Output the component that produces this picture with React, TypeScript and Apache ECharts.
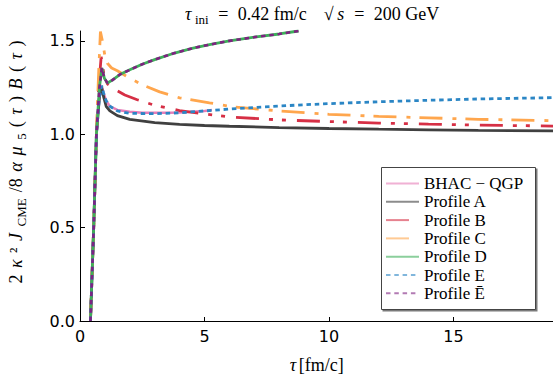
import React, { useEffect, useRef } from "react";
import * as echarts from "echarts";

// ---- data ----
const tauBHAC = [0.42, 0.55, 0.66, 0.78, 0.87, 0.95, 1.05, 1.2, 1.5, 2.0, 2.5, 3.0, 3.5, 4.0, 4.5, 5.0, 5.3];
const valBHAC = [0, 0.5, 1.0, 1.2, 1.26, 1.22, 1.18, 1.15, 1.13, 1.12, 1.115, 1.115, 1.115, 1.117, 1.12, 1.125, 1.13];

const tauA = [0.42, 0.55, 0.66, 0.78, 0.87, 0.95, 1.05, 1.2, 1.5, 2, 3, 4, 5, 6, 8, 10, 12, 14, 16, 19];
const valA = [0, 0.5, 1.0, 1.2, 1.25, 1.2, 1.15, 1.125, 1.1, 1.08, 1.062, 1.053, 1.047, 1.043, 1.036, 1.031, 1.027, 1.024, 1.021, 1.018];

const tauB = [0.42, 0.55, 0.66, 0.75, 0.85, 0.95, 1.1, 1.4, 1.8, 2.3, 3, 4, 5, 6, 8, 10, 12, 14, 16, 19];
const valB = [0, 0.5, 1.0, 1.25, 1.415, 1.33, 1.27, 1.24, 1.21, 1.185, 1.155, 1.127, 1.109, 1.093, 1.077, 1.068, 1.06, 1.054, 1.049, 1.044];

const tauC = [0.42, 0.55, 0.66, 0.74, 0.82, 0.9, 1.0, 1.1, 1.27, 1.5, 2, 2.5, 3.2, 4, 5.2, 6.2, 8, 10, 12, 14, 16, 19];
const valC = [0, 0.5, 1.0, 1.3, 1.55, 1.5, 1.42, 1.38, 1.355, 1.34, 1.3, 1.265, 1.227, 1.195, 1.168, 1.146, 1.125, 1.107, 1.096, 1.088, 1.08, 1.073];

const tauD = [0.42, 0.55, 0.66, 0.78, 0.88, 0.98, 1.1, 1.3, 1.6, 2, 2.5, 3, 3.8, 4.5, 5.2, 6, 7, 8, 8.78];
const valD = [0, 0.5, 1.0, 1.25, 1.355, 1.3, 1.275, 1.29, 1.32, 1.345, 1.375, 1.4, 1.435, 1.46, 1.48, 1.5, 1.52, 1.537, 1.553];

const tauE = [0.42, 0.55, 0.66, 0.78, 0.87, 0.95, 1.05, 1.2, 1.5, 2, 3, 4, 5, 6, 7, 8, 9, 10, 12, 14, 16, 19];
const valE = [0, 0.5, 1.0, 1.2, 1.26, 1.22, 1.18, 1.15, 1.125, 1.112, 1.11, 1.115, 1.125, 1.135, 1.143, 1.151, 1.158, 1.164, 1.174, 1.182, 1.189, 1.196];

const tauEbar = [0.42, 0.55, 0.66, 0.78, 0.88, 0.98, 1.1, 1.3, 1.6, 2, 2.5, 3, 3.8, 4.5, 5.2, 6, 7, 8, 8.78];
const valEbar = [0, 0.5, 1.0, 1.25, 1.355, 1.3, 1.275, 1.29, 1.32, 1.345, 1.375, 1.4, 1.435, 1.46, 1.48, 1.5, 1.52, 1.537, 1.553];

const seriesNames = ["BHAC − QGP", "Profile A", "Profile B", "Profile C", "Profile D", "Profile E", "Profile Ē"];
const xTicks = [0, 5, 10, 15];
const yTicks = [0, 0.5, 1.0, 1.5];

const serif = "'Liberation Serif', serif";
const sans = "'DejaVu Sans', sans-serif";

function pairs(t: number[], v: number[]) {
  return t.map((x, i) => [x, v[i]]);
}

function tok(size: number, italic: boolean, extra: any = {}) {
  return {
    fontFamily: serif,
    fontSize: size,
    fontStyle: italic ? "italic" : "normal",
    color: "#000",
    ...extra,
  };
}

export default function App() {
  const ref = useRef<HTMLDivElement>(null);
  useEffect(() => {
    document.body.style.margin = "0";
    const chart = echarts.init(ref.current as HTMLDivElement, null, { renderer: "svg" });
    const specs = [
      { t: tauBHAC, v: valBHAC, color: "#e67db8", type: "solid" as any, width: 2.5 },
      { t: tauA, v: valA, color: "#404040", type: "solid" as any, width: 2.8 },
      { t: tauB, v: valB, color: "#d62f45", type: [23, 10, 4, 9, 4, 11], width: 2.8 },
      { t: tauC, v: valC, color: "#ffa64d", type: [23, 10, 4, 9], width: 2.8 },
      { t: tauD, v: valD, color: "#3daf5a", type: "solid" as any, width: 2.8 },
      { t: tauE, v: valE, color: "#2b86c5", type: [4.5, 3.8], width: 2.8 },
      { t: tauEbar, v: valEbar, color: "#7e2280", type: [4.5, 3.8], width: 2.6 },
    ];
    const series = specs.map((s, i) => ({
      type: "line",
      name: seriesNames[i],
      data: pairs(s.t, s.v),
      symbol: "none",
      color: s.color,
      lineStyle: { color: s.color, width: s.width, type: s.type },
      z: 2 + i,
    }));
    const titleRich = {
      n: tok(18, false, { lineHeight: 24, verticalAlign: "middle", padding: [0, 1.5, 0, 1.5] }),
      i: tok(18, true, { lineHeight: 24, verticalAlign: "middle", padding: [0, 2, 0, 2] }),
      e: tok(18, false, { lineHeight: 24, verticalAlign: "middle", padding: [0, 8, 0, 8] }),
      s: tok(13, false, { lineHeight: 12, padding: [12, 1.5, 0, 1.5], verticalAlign: "bottom" }),
      g: tok(18, false, { lineHeight: 24, verticalAlign: "middle", padding: [0, 14, 0, 0] }),
    };
    const xRich = {
      n: tok(18, false, { lineHeight: 24, verticalAlign: "middle", padding: [0, 1, 0, 1] }),
      i: tok(18, true, { lineHeight: 24, verticalAlign: "middle", padding: [0, 1.5, 0, 1.5] }),
    };
    const ylabRich = {
      n: tok(18, false, { lineHeight: 24, verticalAlign: "middle", padding: [0, 3, 0, 3] }),
      i: tok(18, true, { lineHeight: 24, verticalAlign: "middle", padding: [0, 3.5, 0, 3.5] }),
      s: tok(13, false, { lineHeight: 12, padding: [12, 3, 0, 3], verticalAlign: "bottom" }),
      g: tok(18, false, { lineHeight: 24, verticalAlign: "middle", padding: [0, 28, 0, 0] }),
    };
    chart.setOption({
      animation: false,
      backgroundColor: "#fff",
      title: {
        text: "{i|τ}{s|ini}{e|=}{n|0.42 fm/c}{g|}{n|√}{i|s}{e|=}{n|200 GeV}",
        left: 183,
        top: 2,
        padding: 0,
        textStyle: { fontFamily: serif, fontSize: 18, color: "#000", fontWeight: "normal", rich: titleRich },
      },
      grid: { left: 80, right: 0, top: 31, bottom: 56, containLabel: false, outerBoundsMode: "none" },
      xAxis: {
        type: "value",
        min: 0,
        max: 19,
        interval: 5,
        name: "{i|τ}{n|[fm/c]}",
        nameLocation: "middle",
        nameGap: 32,
        nameTextStyle: { fontFamily: serif, fontSize: 18, color: "#000", rich: xRich },
        axisLine: { show: true, onZero: false, lineStyle: { color: "#000", width: 1 } },
        axisTick: { show: true, inside: true, length: 4, lineStyle: { color: "#000" }, customValues: xTicks },
        axisLabel: { customValues: xTicks, fontFamily: sans, fontSize: 16, color: "#000", margin: 7, formatter: (v: number) => String(v) },
        splitLine: { show: false },
      },
      yAxis: {
        type: "value",
        min: 0,
        max: 1.553,
        interval: 0.5,
        name: "{g|}{n|2}{i|κ}{n|²}{i|J}{s|CME}{n|/8}{i|α}{i|μ}{s|5}{n|(}{i|τ}{n|)}{i|B}{n|(}{i|τ}{n|)}",
        nameLocation: "middle",
        nameRotate: 90,
        nameGap: 52,
        nameTextStyle: { fontFamily: serif, fontSize: 18, color: "#000", rich: ylabRich },
        axisLine: { show: true, onZero: false, lineStyle: { color: "#000", width: 1 } },
        axisTick: { show: true, inside: true, length: 5, lineStyle: { color: "#000" }, customValues: yTicks },
        axisLabel: { customValues: yTicks, fontFamily: sans, fontSize: 16, color: "#000", margin: 5, formatter: (v: number) => v.toFixed(1) },
        splitLine: { show: false },
      },
      legend: {
        orient: "vertical",
        left: 385,
        top: 175,
        padding: 0,
        itemWidth: 33,
        itemHeight: 14,
        itemGap: 1.3,
        selectedMode: false,
        z: 10,
        textStyle: { fontFamily: serif, fontSize: 17, lineHeight: 14, color: "#000" },
        data: seriesNames.map((n) => ({
          name: n,
          lineStyle: { opacity: 0.6, width: 2 },
          itemStyle: { opacity: 0, color: "rgba(0,0,0,0)", borderWidth: 0 },
        })),
      },
      graphic: [
        { type: "rect", z: 5, shape: { x: 382.5, y: 168.5, width: 155, height: 143 }, style: { fill: "#7a7a7a" } },
        { type: "rect", z: 6, shape: { x: 381.5, y: 167.5, width: 154, height: 142 }, style: { fill: "#fff", stroke: "#444", lineWidth: 1 } },
      ],
      series,
    });
    return () => chart.dispose();
  }, []);
  return <div ref={ref} style={{ position: "absolute", left: 0, top: 0, width: 553, height: 377 }} />;
}
